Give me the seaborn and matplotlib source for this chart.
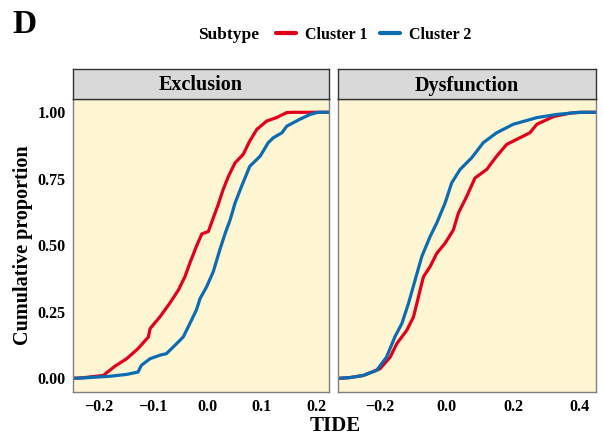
import numpy as np
import pandas as pd
import matplotlib
matplotlib.use("Agg")
import matplotlib.pyplot as plt
from matplotlib.lines import Line2D
import seaborn as sns

# ECDF readings (TIDE value, cumulative proportion) per signature and subtype
excl_c1_x = [-0.226, -0.191, -0.170, -0.148, -0.127, -0.108, -0.105, -0.087, -0.069, -0.053,
             -0.041, -0.032, -0.020, -0.010, 0.002, 0.011, 0.020, 0.029, 0.039, 0.051,
             0.066, 0.078, 0.091, 0.109, 0.127, 0.146, 0.158]
excl_c1_p = [0.003, 0.011, 0.045, 0.074, 0.112, 0.156, 0.187, 0.231, 0.282, 0.332,
             0.382, 0.433, 0.496, 0.543, 0.552, 0.603, 0.653, 0.709, 0.760, 0.810,
             0.842, 0.892, 0.936, 0.967, 0.980, 0.999, 1.0]
excl_c2_x = [-0.226, -0.179, -0.148, -0.127, -0.121, -0.105, -0.087, -0.075, -0.059, -0.044,
             -0.032, -0.020, -0.013, -0.001, 0.011, 0.023, 0.033, 0.042, 0.051, 0.063,
             0.078, 0.097, 0.112, 0.121, 0.137, 0.146, 0.170, 0.189, 0.203]
excl_c2_p = [0.002, 0.008, 0.015, 0.024, 0.049, 0.074, 0.087, 0.093, 0.125, 0.156,
             0.206, 0.257, 0.301, 0.345, 0.401, 0.483, 0.546, 0.596, 0.659, 0.722,
             0.797, 0.835, 0.886, 0.904, 0.923, 0.948, 0.974, 0.992, 1.0]
dysf_c1_x = [-0.292, -0.251, -0.201, -0.170, -0.150, -0.120, -0.100, -0.080, -0.070, -0.050,
             -0.030, -0.005, 0.020, 0.035, 0.060, 0.085, 0.120, 0.150, 0.180, 0.210,
             0.250, 0.271, 0.321, 0.371, 0.400]
dysf_c1_p = [0.003, 0.011, 0.036, 0.080, 0.131, 0.181, 0.231, 0.332, 0.382, 0.420,
             0.470, 0.508, 0.558, 0.621, 0.684, 0.753, 0.785, 0.835, 0.879, 0.898,
             0.923, 0.955, 0.984, 0.997, 1.0]
dysf_c2_x = [-0.292, -0.251, -0.211, -0.181, -0.156, -0.135, -0.115, -0.095, -0.075, -0.050,
             -0.030, -0.005, 0.015, 0.040, 0.075, 0.110, 0.150, 0.200, 0.271, 0.331,
             0.391, 0.413]
dysf_c2_p = [0.003, 0.011, 0.030, 0.080, 0.156, 0.206, 0.282, 0.370, 0.458, 0.533,
             0.584, 0.659, 0.735, 0.785, 0.829, 0.886, 0.923, 0.955, 0.980, 0.992,
             0.999, 1.0]

signatures = ["Exclusion", "Dysfunction"]
subtypes = ["Cluster 1", "Cluster 2"]
xlims = {"Exclusion": (-0.247, 0.224), "Dysfunction": (-0.327, 0.448)}
xticks = {"Exclusion": [-0.2, -0.1, 0.0, 0.1, 0.2], "Dysfunction": [-0.2, 0.0, 0.2, 0.4]}
yticks = [0.0, 0.25, 0.5, 0.75, 1.0]

pal = {"Cluster 1": "#E3001B", "Cluster 2": "#0A6CB2"}

series = {
    ("Exclusion", "Cluster 1"): (excl_c1_x, excl_c1_p),
    ("Exclusion", "Cluster 2"): (excl_c2_x, excl_c2_p),
    ("Dysfunction", "Cluster 1"): (dysf_c1_x, dysf_c1_p),
    ("Dysfunction", "Cluster 2"): (dysf_c2_x, dysf_c2_p),
}

sns.set_style("white")
plt.rcParams["font.family"] = ["Liberation Serif", "DejaVu Serif"]
plt.rcParams["font.weight"] = "bold"
plt.rcParams["text.color"] = "black"
plt.rcParams["axes.labelcolor"] = "black"

W, H = 603, 436
fig = plt.figure(figsize=(W / 100, H / 100), dpi=100)

panels = {"Exclusion": (72.7, 329.3), "Dysfunction": (338.0, 595.7)}
ptop, pbot = 99.0, 391.7
strip_h = 30.0

for sig in signatures:
    x0, x1 = panels[sig]
    ax = fig.add_axes([x0 / W, 1 - pbot / H, (x1 - x0) / W, (pbot - ptop) / H])
    ax.set_facecolor("#FEF5D3")
    lo, hi = xlims[sig]
    # pad each ECDF out to the panel edges, like ggplot's stat_ecdf(pad = TRUE)
    frames = []
    for st in subtypes:
        xs, ps = series[(sig, st)]
        frames.append(pd.DataFrame({"TIDE": [lo] + list(xs) + [hi],
                                    "prop": [0.0] + list(ps) + [1.0],
                                    "Subtype": st}))
    df = pd.concat(frames, ignore_index=True)
    sns.lineplot(data=df, x="TIDE", y="prop", hue="Subtype", palette=pal,
                 estimator=None, sort=False, lw=2.3, legend=False, ax=ax)
    ax.set_xlim(lo, hi)
    ax.set_ylim(-0.05, 1.05)
    ax.set_xticks(xticks[sig])
    ax.set_xticklabels(["\u2212%.1f" % abs(t) if t < 0 else "%.1f" % t for t in xticks[sig]])
    ax.set_yticks(yticks)
    if sig == "Exclusion":
        ax.set_yticklabels(["%.2f" % t for t in yticks])
        ax.set_ylabel("Cumulative proportion", fontsize=14.5, fontweight="bold", labelpad=3)
    else:
        ax.set_yticklabels([])
        ax.set_ylabel("")
        ax.tick_params(axis="y", length=0)
    ax.set_xlabel("")
    ax.tick_params(axis="both", labelsize=11.5, length=3, width=0.8, color="#333333",
                   labelcolor="black", pad=2, direction="out")
    for lab in ax.get_xticklabels() + ax.get_yticklabels():
        lab.set_fontweight("bold")
    for s in ax.spines.values():
        s.set_edgecolor("#7F7F7F")
        s.set_linewidth(1.0)

    sax = fig.add_axes([x0 / W, 1 - ptop / H, (x1 - x0) / W, strip_h / H])
    sax.set_facecolor("#D9D9D9")
    sax.set_xticks([])
    sax.set_yticks([])
    for s in sax.spines.values():
        s.set_edgecolor("#333333")
        s.set_linewidth(1.0)
    sax.text(0.5, 0.45, sig, ha="center", va="center", fontsize=14.5, fontweight="bold",
             transform=sax.transAxes)

fig.text(335 / W, 1 - 431 / H, "TIDE", ha="center", va="baseline", fontsize=15, fontweight="bold")
fig.text(12 / W, 1 - 33 / H, "D", ha="left", va="baseline", fontsize=24, fontweight="bold")

fig.text(198 / W, 1 - 35 / H, "Subtype", ha="left", va="center", fontsize=12.5, fontweight="bold")
handles = [Line2D([], [], color=pal[s], lw=3) for s in subtypes]
leg = fig.legend(handles, subtypes, loc="center left", bbox_to_anchor=(262 / W, 1 - 35 / H),
                 ncol=2, frameon=False, handlelength=1.2, handletextpad=0.6, columnspacing=0.8,
                 prop={"weight": "bold", "size": 11.5})

fig.savefig("out.png", dpi=100)
